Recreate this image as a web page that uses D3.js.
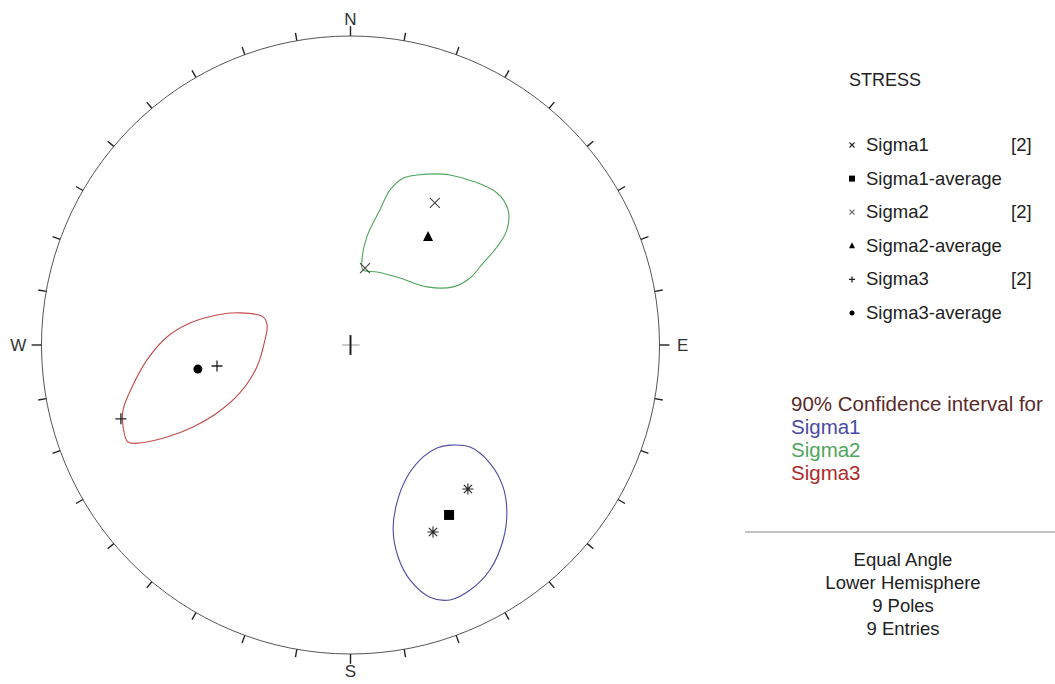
<!DOCTYPE html>
<html lang="en">
<head>
<meta charset="UTF-8">
<title>Stress stereonet</title>
<script src="https://d3js.org/d3.v7.min.js"></script>
<style>
    body { margin: 0; background: #ffffff; }
    text { font-family: "Liberation Sans", Arial, sans-serif; fill: #222; }
    .net { fill: none; stroke: #555; stroke-width: 1; }
    .tick { stroke: #222; stroke-width: 1.4; }
    .contour { fill: none; stroke-width: 1.1; }
</style>
</head>
<body>
<svg width="1055" height="684"></svg>
<script>
// net coordinates: east / north, unit radius of the primitive circle
var sigma1 = [[0.380, -0.466], [0.267, -0.605]];
var sigma1Avg = [0.319, -0.550];
var sigma2 = [[0.273, 0.460], [0.047, 0.249]];
var sigma2Avg = [0.251, 0.350];
var sigma3 = [[-0.432, -0.068], [-0.743, -0.239]];
var sigma3Avg = [-0.494, -0.078];

// 90% confidence outlines
var conf1 = [[0.322,-0.324],[0.387,-0.330],[0.451,-0.382],[0.494,-0.460],[0.506,-0.544],
             [0.494,-0.631],[0.451,-0.728],[0.387,-0.793],[0.322,-0.825],[0.257,-0.816],
             [0.193,-0.761],[0.154,-0.686],[0.138,-0.599],[0.150,-0.511],[0.183,-0.427],
             [0.235,-0.362],[0.280,-0.333]];
var conf2 = [[0.215,0.550],[0.322,0.550],[0.474,0.492],[0.510,0.437],[0.506,0.372],
             [0.474,0.317],[0.429,0.265],[0.387,0.217],[0.332,0.188],
             [0.248,0.188],[0.160,0.217],[0.086,0.236],[0.040,0.243],[0.037,0.275],
             [0.053,0.350],[0.095,0.437],[0.128,0.502],[0.170,0.540]];
var conf3 = [[-0.283,0.091],[-0.358,0.104],[-0.432,0.097],[-0.519,0.071],[-0.594,0.026],
             [-0.659,-0.049],[-0.707,-0.136],[-0.736,-0.210],[-0.736,-0.265],[-0.720,-0.314],
             [-0.681,-0.317],[-0.594,-0.298],[-0.510,-0.265],[-0.432,-0.220],[-0.358,-0.155],
             [-0.303,-0.071],[-0.277,0.016],[-0.270,0.065]];

var cardinals = ["N", "E", "S", "W"];
var legendNames = ["Sigma1", "Sigma1-average", "Sigma2", "Sigma2-average", "Sigma3", "Sigma3-average"];
var legendCounts = ["[2]", "", "[2]", "", "[2]", ""];
var confNames = ["Sigma1", "Sigma2", "Sigma3"];
var infoLines = ["Equal Angle", "Lower Hemisphere", "9 Poles", "9 Entries"];

var svg = d3.select("svg");
var cx = 350.5, cy = 345, R = 309;

var x = d3.scaleLinear().domain([-1, 1]).range([cx - R, cx + R]);
var y = d3.scaleLinear().domain([-1, 1]).range([cy + R, cy - R]);

var blue = "#4a4aa6", green = "#4fa55a", red = "#c24a4a";

// primitive circle
svg.append("circle")
    .attr("class", "net")
    .attr("cx", x(0)).attr("cy", y(0))
    .attr("r", x(1) - x(0));

// azimuth ticks every 10 degrees
var az = d3.range(0, 360, 10);
svg.append("g").selectAll("line")
    .data(az)
    .enter().append("line")
    .attr("class", "tick")
    .attr("x1", function(d) { return x(Math.sin(d * Math.PI / 180)); })
    .attr("y1", function(d) { return y(Math.cos(d * Math.PI / 180)); })
    .attr("x2", function(d) { var l = d % 90 === 0 ? 1.032 : 1.026; return x(l * Math.sin(d * Math.PI / 180)); })
    .attr("y2", function(d) { var l = d % 90 === 0 ? 1.032 : 1.026; return y(l * Math.cos(d * Math.PI / 180)); });

svg.append("g").selectAll("text")
    .data(cardinals)
    .enter().append("text")
    .attr("x", function(d, i) { return x((i % 2 ? 1.075 : 1.055) * Math.sin(i * Math.PI / 2)); })
    .attr("y", function(d, i) { return y((i % 2 ? 1.075 : 1.055) * Math.cos(i * Math.PI / 2)); })
    .attr("dy", "0.36em")
    .attr("text-anchor", "middle")
    .style("font-size", "17px")
    .style("fill", "#333")
    .text(function(d) { return d; });

// centre cross
svg.append("line").attr("x1", x(-0.028)).attr("x2", x(0.03)).attr("y1", y(0)).attr("y2", y(0))
    .style("stroke", "#999").style("stroke-width", 1);
svg.append("line").attr("x1", x(0)).attr("x2", x(0)).attr("y1", y(0.032)).attr("y2", y(-0.032))
    .style("stroke", "#222").style("stroke-width", 2);

// confidence outlines
var outline = d3.line()
    .x(function(d) { return x(d[0]); })
    .y(function(d) { return y(d[1]); })
    .curve(d3.curveCatmullRomClosed.alpha(0.5));

[[conf1, blue], [conf2, green], [conf3, red]].forEach(function(c) {
    svg.append("path")
        .attr("class", "contour")
        .attr("d", outline(c[0]))
        .style("stroke", c[1]);
});

// marker drawing helpers
function asterisk(g, s) {
    var k = s * 0.75;
    g.append("path")
        .attr("d", "M0," + (-s) + "V" + s +
                   "M" + (-s) + ",0H" + s +
                   "M" + (-k) + "," + (-k) + "L" + k + "," + k +
                   "M" + k + "," + (-k) + "L" + (-k) + "," + k)
        .style("stroke", "#222").style("stroke-width", 1.1).style("fill", "none");
}
function cross(g, s, col) {
    g.append("path")
        .attr("d", "M" + (-s) + "," + (-s) + "L" + s + "," + s + "M" + s + "," + (-s) + "L" + (-s) + "," + s)
        .style("stroke", col).style("stroke-width", 1.1).style("fill", "none");
}
function plus(g, s) {
    g.append("path")
        .attr("d", "M" + (-s) + ",0H" + s + "M0," + (-s) + "V" + s)
        .style("stroke", "#222").style("stroke-width", 1.3).style("fill", "none");
}
function square(g, s) {
    g.append("rect").attr("x", -s).attr("y", -s).attr("width", 2 * s).attr("height", 2 * s).style("fill", "#000");
}
function triangle(g, s) {
    g.append("path").attr("d", "M0," + (-s * 1.15) + "L" + s + "," + (s * 0.85) + "L" + (-s) + "," + (s * 0.85) + "Z")
        .style("fill", "#000");
}
function dot(g, s) {
    g.append("circle").attr("r", s).style("fill", "#000");
}

function place(p) {
    return svg.append("g").attr("transform", "translate(" + x(p[0]) + "," + y(p[1]) + ")");
}

sigma1.forEach(function(p) { asterisk(place(p), 5.5); });
square(place(sigma1Avg), 5);
sigma2.forEach(function(p) { cross(place(p), 5, "#444"); });
triangle(place(sigma2Avg), 5);
sigma3.forEach(function(p) { plus(place(p), 5.5); });
dot(place(sigma3Avg), 4.5);

// legend
var legend = svg.append("g");
legend.append("text").attr("x", 849).attr("y", 86).style("font-size", "18px").text("STRESS");

var rowY = d3.scaleLinear().domain([0, 5]).range([151, 319]);
var symbols = [
    function(g) { cross(g, 2.5, "#222"); },
    function(g) { square(g, 3); },
    function(g) { cross(g, 2.5, "#666"); },
    function(g) { triangle(g, 3); },
    function(g) { plus(g, 3); },
    function(g) { dot(g, 2.5); }
];
legendNames.forEach(function(n, i) {
    var gy = rowY(i);
    symbols[i](legend.append("g").attr("transform", "translate(852," + (gy - 6) + ")"));
    legend.append("text").attr("x", 866).attr("y", gy).style("font-size", "18.5px").text(n);
    if (legendCounts[i]) {
        legend.append("text").attr("x", 1011).attr("y", gy).style("font-size", "18.5px").text(legendCounts[i]);
    }
});

svg.append("text").attr("x", 791).attr("y", 411).style("font-size", "20.5px").style("fill", "#5a2a2a")
    .text("90% Confidence interval for");
var confCols = [blue, green, "#b02a2a"];
confNames.forEach(function(n, i) {
    svg.append("text").attr("x", 791).attr("y", 434 + i * 23).style("font-size", "20.5px")
        .style("fill", confCols[i]).text(n);
});

svg.append("line").attr("x1", 745).attr("x2", 1055).attr("y1", 532).attr("y2", 532)
    .style("stroke", "#888").style("stroke-width", 1);

infoLines.forEach(function(t, i) {
    svg.append("text").attr("x", 903).attr("y", 566 + i * 23).attr("text-anchor", "middle")
        .style("font-size", "18.5px").text(t);
});
</script>
</body>
</html>
